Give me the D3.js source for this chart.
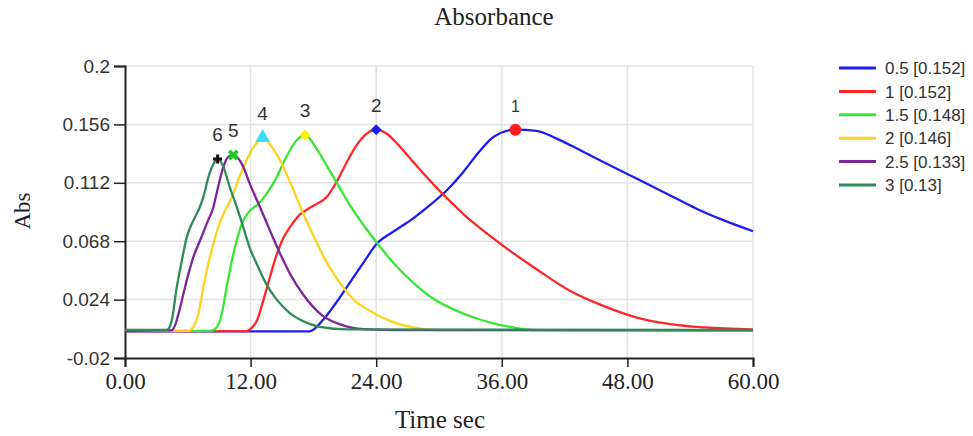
<!DOCTYPE html>
<html>
<head>
<meta charset="utf-8">
<script src="https://cdn.jsdelivr.net/npm/d3@7/dist/d3.min.js"></script>
<style>
  body { margin: 0; background: #fff; }
  svg { display: block; }
</style>
</head>
<body>
<script>
// series: [time sec, Abs]
const s05 = [[0,0],[17.6,0],[18.95,0.009],[20.2,0.022],[21.5,0.037],[22.8,0.052],[24.05,0.066],
  [25.6,0.075],[27.5,0.085],[29.1,0.095],[30.7,0.106],[32.3,0.12],[33.9,0.136],[35.2,0.1465],
  [37.3,0.152],[39.3,0.1512],[41.2,0.1455],[43.5,0.1365],[45.7,0.1277],[47.9,0.119],[50.2,0.110],
  [52.1,0.1025],[54.6,0.0925],[56.8,0.085],[60,0.0755]];
const s1 = [[0,0.0003],[11.6,0.0003],[12.0,0.002],[12.6,0.008],[13.2,0.023],[13.85,0.041],[14.5,0.058],
  [15.1,0.070],[15.8,0.079],[16.7,0.088],[17.5,0.0925],[18.3,0.096],[19.3,0.1015],[20.2,0.1125],
  [21.2,0.1277],[22.1,0.140],[23.1,0.149],[24.0,0.152],[25.0,0.149],[26.3,0.139],[27.5,0.128],
  [28.8,0.1165],[30.1,0.1055],[31.4,0.0955],[32.6,0.0865],[33.9,0.078],[36.1,0.0647],[39.3,0.047],
  [42.5,0.0307],[45.7,0.0193],[48.9,0.0105],[52.1,0.0055],[55.3,0.003],[60,0.0015]];
const s15 = [[0,0.0005],[8.2,0.0005],[8.76,0.003],[9.24,0.013],[9.7,0.033],[10.2,0.053],[10.67,0.0685],
  [11.3,0.0836],[11.94,0.091],[12.74,0.096],[13.54,0.1038],[14.33,0.1138],[15.1,0.1264],[15.76,0.1365],
  [16.4,0.144],[17.2,0.148],[18.3,0.1378],[19.27,0.125],[20.2,0.1125],[21.5,0.095],[22.8,0.080],
  [24.05,0.067],[25.6,0.052],[27.5,0.037],[29.5,0.0244],[31.7,0.0155],[33.9,0.009],[34.9,0.0067],
  [37.1,0.003],[39.3,0.001],[60,0.0008]];
const s2 = [[0,0.0005],[6.0,0.0005],[6.5,0.003],[7.0,0.013],[7.48,0.033],[7.96,0.051],[8.44,0.066],
  [8.9,0.0785],[9.55,0.091],[10.2,0.101],[10.8,0.1138],[11.46,0.1264],[12.1,0.1365],[12.7,0.143],
  [13.15,0.146],[13.85,0.141],[14.8,0.129],[15.8,0.112],[16.7,0.095],[17.7,0.077],[18.0,0.0722],
  [19.27,0.052],[20.5,0.037],[21.8,0.0244],[23.4,0.0155],[25.3,0.008],[27.5,0.003],[30,0.001],[60,0.0008]];
const s25 = [[0,0.0005],[4.4,0.0008],[4.8,0.005],[5.1,0.013],[5.57,0.028],[6.05,0.043],[6.53,0.056],
  [7.17,0.0685],[7.8,0.081],[8.44,0.0936],[8.9,0.109],[9.4,0.124],[9.87,0.1315],[10.35,0.133],
  [11.15,0.1264],[11.94,0.111],[12.9,0.0936],[13.85,0.076],[14.8,0.059],[15.8,0.043],[17.0,0.028],
  [18.9,0.0117],[20.5,0.0055],[22.8,0.0017],[26,0.001],[60,0.0008]];
const s3 = [[0,0.0012],[4.0,0.0012],[4.46,0.008],[4.94,0.033],[5.42,0.053],[5.9,0.071],[6.37,0.081],
  [7.0,0.091],[7.48,0.101],[7.96,0.116],[8.44,0.126],[8.85,0.13],[9.4,0.124],[10.0,0.109],[10.67,0.094],
  [11.3,0.0785],[11.9,0.0634],[12.58,0.051],[13.5,0.0357],[14.5,0.024],[15.8,0.0135],[16.7,0.009],
  [17.7,0.0055],[18.6,0.0035],[21.2,0.0016],[60,0.0012]];

const seriesData = [s05, s1, s15, s2, s25, s3];
const legendLabels = ['0.5 [0.152]', '1 [0.152]', '1.5 [0.148]', '2 [0.146]', '2.5 [0.133]', '3 [0.13]'];

const peakLabels = ['1', '2', '3', '4', '5', '6'];
const peakTimes = [37.3, 24.0, 17.2, 13.15, 10.35, 8.85];
const peakValues = [0.152, 0.152, 0.148, 0.146, 0.133, 0.13];

const xTicks = [0, 12, 24, 36, 48, 60];
const yTicks = [-0.02, 0.024, 0.068, 0.112, 0.156, 0.2];

const colors = ['#1c1cf5', '#ff2626', '#36e836', '#ffd21e', '#7e2597', '#2f8a5c'];
const peakColors = ['#ff1c1c', '#1c1cf5', '#fff200', '#36e0f2', '#22c822', '#111'];
const peakShapes = [d3.symbolCircle, d3.symbolSquare, d3.symbolSquare, d3.symbolTriangle, d3.symbolCross, d3.symbolCross];
const peakSizes = [110, 60, 60, 95, 75, 45];
const peakRot = [0, 45, 45, 0, 45, 0];
const peakFont = [16, 19, 19, 19, 19, 19];

const width = 973, height = 436;
const margin = { left: 125, right: 220, top: 66, bottom: 78 };

const svg = d3.select('body').append('svg')
  .attr('width', width).attr('height', height);
svg.append('rect').attr('width', width).attr('height', height).attr('fill', '#fff');

const x = d3.scaleLinear().domain([0, 60]).range([margin.left, width - margin.right]);
const y = d3.scaleLinear().domain([-0.02, 0.2]).range([height - margin.bottom, margin.top]);

// grid
svg.append('g').selectAll('line').data(xTicks.slice(1)).join('line')
  .attr('x1', d => x(d)).attr('x2', d => x(d))
  .attr('y1', y(0.2)).attr('y2', y(-0.02))
  .attr('stroke', '#e2e2e2').attr('stroke-width', 1.5);
svg.append('g').selectAll('line').data(yTicks.slice(1)).join('line')
  .attr('x1', x(0)).attr('x2', x(60))
  .attr('y1', d => y(d)).attr('y2', d => y(d))
  .attr('stroke', '#e2e2e2').attr('stroke-width', 1.5);

// axes
const xAxis = svg.append('g')
  .attr('transform', `translate(0,${y(-0.02)})`)
  .call(d3.axisBottom(x).tickValues(xTicks).tickFormat(d3.format('.2f')).tickSize(9).tickPadding(6));
xAxis.selectAll('text')
  .attr('font-family', '"Liberation Serif", "Times New Roman", serif')
  .attr('font-size', 23).attr('fill', '#222');

const yAxis = svg.append('g')
  .attr('transform', `translate(${x(0)},0)`)
  .call(d3.axisLeft(y).tickValues(yTicks).tickFormat(d => String(+d.toFixed(3))).tickSize(11).tickPadding(4));
yAxis.selectAll('text')
  .attr('font-family', '"Liberation Sans", Arial, sans-serif')
  .attr('font-size', 19).attr('fill', '#333');

[xAxis, yAxis].forEach(a => {
  a.select('.domain').attr('stroke', '#222').attr('stroke-width', 2);
  a.selectAll('.tick line').attr('stroke', '#222').attr('stroke-width', 1.5);
});

// lines
const line = d3.line()
  .x(d => x(d[0])).y(d => y(d[1]))
  .curve(d3.curveMonotoneX);

svg.append('g').selectAll('path').data(seriesData).join('path')
  .attr('d', line)
  .attr('fill', 'none')
  .attr('stroke', (d, i) => colors[i])
  .attr('stroke-width', 2.3)
  .attr('stroke-linejoin', 'round');

// peak markers
const peaks = svg.append('g').selectAll('g').data(peakLabels).join('g')
  .attr('transform', (d, i) => `translate(${x(peakTimes[i])},${y(peakValues[i])})`);
peaks.append('path')
  .attr('d', (d, i) => d3.symbol().type(peakShapes[i]).size(peakSizes[i])())
  .attr('transform', (d, i) => `rotate(${peakRot[i]})`)
  .attr('fill', (d, i) => peakColors[i]);
peaks.append('text')
  .attr('y', -18)
  .attr('text-anchor', 'middle')
  .attr('font-family', '"Liberation Sans", Arial, sans-serif')
  .attr('font-size', (d, i) => peakFont[i])
  .attr('fill', '#333')
  .text(d => d);

// titles
svg.append('text')
  .attr('x', 494).attr('y', 25)
  .attr('text-anchor', 'middle')
  .attr('font-family', '"Liberation Serif", "Times New Roman", serif')
  .attr('font-size', 25).attr('fill', '#222')
  .text('Absorbance');

svg.append('text')
  .attr('x', 440).attr('y', 428)
  .attr('text-anchor', 'middle')
  .attr('font-family', '"Liberation Serif", "Times New Roman", serif')
  .attr('font-size', 25).attr('fill', '#222')
  .text('Time sec');

svg.append('text')
  .attr('transform', 'translate(30,211) rotate(-90)')
  .attr('text-anchor', 'middle')
  .attr('font-family', '"Liberation Serif", "Times New Roman", serif')
  .attr('font-size', 23).attr('fill', '#222')
  .text('Abs');

// legend
const legend = svg.append('g').selectAll('g').data(legendLabels).join('g')
  .attr('transform', (d, i) => `translate(839,${68 + i * 23.4})`);
legend.append('line')
  .attr('x1', 0).attr('x2', 37)
  .attr('stroke', (d, i) => colors[i]).attr('stroke-width', 3);
legend.append('text')
  .attr('x', 46).attr('dy', '0.36em')
  .attr('font-family', '"Liberation Sans", Arial, sans-serif')
  .attr('font-size', 17).attr('fill', '#333')
  .text(d => d);
</script>
</body>
</html>
